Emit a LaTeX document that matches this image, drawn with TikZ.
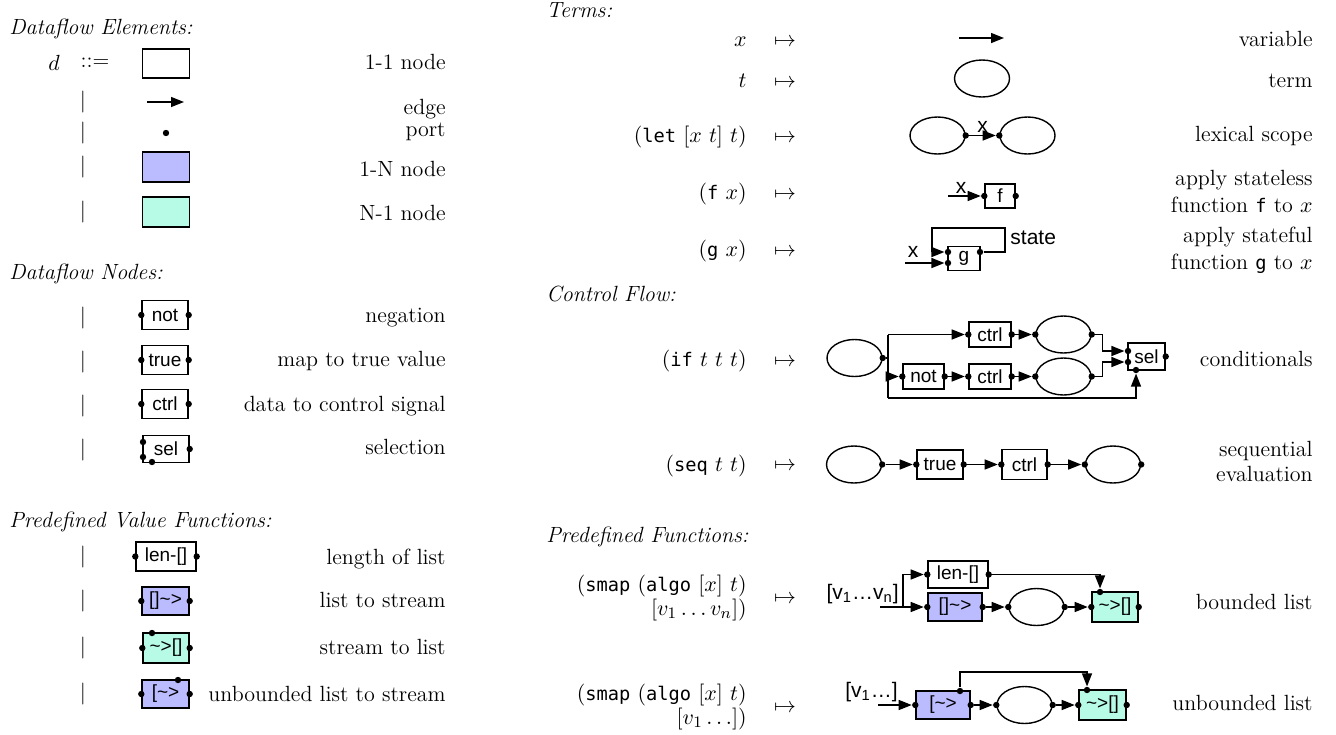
\documentclass[tikz,border=0pt]{standalone}
\usepackage{amsmath}
\usepackage{fontspec}
\newfontfamily\labfont{Liberation Sans}
\newfontfamily\codefont[Scale=0.85]{DejaVu Sans Mono}
\usetikzlibrary{arrows.meta,shapes.geometric}
\definecolor{nblue}{RGB}{187,187,255}
\definecolor{ngreen}{RGB}{183,250,230}
\newcommand\cd[1]{\mbox{\codefont #1}}
\newcommand\prt[2]{\node[port] (#1) at (#2) {};}
\begin{document}
\begin{tikzpicture}[x=0.5pt,y=-0.5pt,
  every node/.style={font=\fontsize{11}{13}\selectfont},
  box/.style={draw, line width=0.7pt, rectangle, inner sep=0pt, font=\labfont\fontsize{9.5}{11}\selectfont},
  bbox/.style={box, fill=nblue},
  gbox/.style={box, fill=ngreen},
  term/.style={draw, ellipse, line width=0.7pt, minimum width=27.5pt, minimum height=18.5pt, inner sep=0pt},
  port/.style={circle, fill=black, inner sep=0pt, minimum size=3.2pt},
  flow/.style={line width=0.7pt, -{Triangle[length=6.5pt,width=5pt]}},
  wire/.style={line width=0.7pt},
  rt/.style={anchor=mid east, inner sep=0pt},
  hd/.style={anchor=mid west, inner sep=0pt, font=\fontsize{11}{13}\selectfont\itshape},
  elab/.style={font=\labfont\fontsize{10.5}{12}\selectfont, inner sep=1pt},
]
\fill[white] (0,0) rectangle (1336,734);
\useasboundingbox (0,0) rectangle (1336,734);

% ---------------- Left column ----------------
\node[hd] (h1) at (9,30) {Dataflow Elements:};
\node (dsym) at (54,63) {$d$};
\node (defs) at (95,63) {::=};
\node[box, minimum width=23.5pt, minimum height=14.5pt] (e1) at (166,63.5) {};
\node[rt] (e1t) at (446,65) {1-1 node};
\node (bar2) at (83,102) {$|$};
\coordinate (ea) at (147,102); \coordinate (eb) at (184,102);
\draw[flow] (ea) -- (eb);
\node[rt] (e2t) at (446,110) {edge};
\node (bar3) at (83,133) {$|$};
\prt{pdot}{166,133}
\node[rt] (e3t) at (446,132) {port};
\node (bar4) at (83,167) {$|$};
\node[bbox, minimum width=23.5pt, minimum height=15pt] (e4) at (166,167) {};
\node[rt] (e4t) at (446,172) {1-N node};
\node (bar5) at (83,212) {$|$};
\node[gbox, minimum width=23.5pt, minimum height=15pt] (e5) at (166,212) {};
\node[rt] (e5t) at (446,216) {N-1 node};

\node[hd] (h2) at (9,275) {Dataflow Nodes:};
\node (bar6) at (83,318) {$|$};
\node[box, minimum width=23pt, minimum height=14.5pt] (nnot) at (165,315) {not};
\prt{nnotl}{nnot.west} \prt{nnotr}{nnot.east}
\node[rt] (n1t) at (446,318) {negation};
\node (bar7) at (83,362) {$|$};
\node[box, minimum width=23pt, minimum height=14.5pt] (ntrue) at (165,360) {true};
\prt{ntruel}{ntrue.west} \prt{ntruer}{ntrue.east}
\node[rt] (n2t) at (446,362) {map to true value};
\node (bar8) at (83,406) {$|$};
\node[box, minimum width=23pt, minimum height=14.5pt] (nctrl) at (165,404) {ctrl};
\prt{nctrll}{nctrl.west} \prt{nctrlr}{nctrl.east}
\node[rt] (n3t) at (446,407) {data to control signal};
\node (bar9) at (83,450) {$|$};
\node[box, minimum width=23pt, minimum height=13.5pt] (nsel) at (166,449) {sel};
\prt{nsel1}{143,442} \prt{nsel2}{143,457} \prt{nselb}{152,462} \prt{nselr}{nsel.east}
\node[rt] (n4t) at (446,450) {selection};

\node[hd] (h3) at (9,523) {Predefined Value Functions:};
\node (bar10) at (83,557) {$|$};
\node[box, minimum width=30pt, minimum height=14.5pt] (vlen) at (166,556.5) {len-[]};
\prt{vlenl}{vlen.west} \prt{vlenr}{vlen.east}
\node[rt] (v1t) at (446,560) {length of list};
\node (bar11) at (83,601) {$|$};
\node[bbox, minimum width=23.5pt, minimum height=14pt] (vls) at (165.5,601) {[]\textasciitilde>};
\prt{vlsl}{vls.west} \prt{vlsr}{vls.east}
\node[rt] (v2t) at (446,603) {list to stream};
\node (bar12) at (83,648) {$|$};
\node[gbox, minimum width=23pt, minimum height=15pt] (vsl) at (166,648) {\textasciitilde>[]};
\prt{vsll}{vsl.west} \prt{vslr}{vsl.east} \prt{vslt}{152,633}
\node[rt] (v3t) at (446,650) {stream to list};
\node (bar13) at (83,694) {$|$};
\node[bbox, minimum width=23.5pt, minimum height=14pt] (vus) at (165.5,694) {[\textasciitilde>};
\prt{vusl}{vus.west} \prt{vusr}{vus.east} \prt{vust}{178,680}
\node[rt] (v4t) at (446,697) {unbounded list to stream};

% ---------------- Right column: Terms ----------------
\node[hd] (h4) at (546,13) {Terms:};
\node[rt] (m1) at (747,42) {$x$};
\node (a1) at (785,42) {$\mapsto$};
\coordinate (va) at (959,38); \coordinate (vb) at (1004,38);
\draw[flow] (va) -- (vb);
\node[rt] (d1) at (1313,42) {variable};

\node[rt] (m2) at (747,83) {$t$};
\node (a2) at (785,83) {$\mapsto$};
\node[term] (tt) at (982,78.5) {};
\node[rt] (d2) at (1313,83) {term};

\node[rt] (m3) at (747,138) {$(\cd{let}\ [x\ t]\ t)$};
\node (a3) at (785,138) {$\mapsto$};
\node[term] (l1) at (937.5,135.5) {};
\node[term] (l2) at (1027.5,135.5) {};
\prt{l1p}{l1.east} \prt{l2p}{l2.west}
\draw[flow] (l1p) -- node[above, elab] {x} (l2p);
\node[rt] (d3) at (1313,137) {lexical scope};

\node[rt] (m4) at (747,195) {$(\cd{f}\ x)$};
\node (a4) at (785,195) {$\mapsto$};
\node[box, minimum width=15pt, minimum height=12pt] (ff) at (1000,196) {f};
\prt{ffl}{ff.west} \prt{ffr}{ff.east}
\coordinate (fx) at (948,196);
\draw[flow] (fx) -- node[above, elab, pos=0.4] {x} (ffl);
\node[rt] (d4a) at (1313,181) {apply stateless};
\node[rt] (d4b) at (1313,208) {function \cd{f} to $x$};

\node[rt] (m5) at (747,252) {$(\cd{g}\ x)$};
\node (a5) at (785,252) {$\mapsto$};
\node[box, minimum width=16pt, minimum height=12pt] (gg) at (964,258.5) {g};
\prt{gl1}{948,252} \prt{gl2}{948,263} \prt{gr}{980,252}
\coordinate (gc1) at (1005,228); \coordinate (gc2) at (932,228);
\draw[flow] (gr) -| (gc1) -- (gc2) |- (gl1);
\node[elab, anchor=mid west] (gst) at (1008,240) {state};
\coordinate (gx) at (905,263);
\draw[flow] (gx) -- (gl2);
\node[elab] (gxl) at (913,252) {x};
\node[rt] (d5a) at (1313,238) {apply stateful};
\node[rt] (d5b) at (1313,265) {function \cd{g} to $x$};

% ---------------- Control Flow ----------------
\node[hd] (h5) at (546,297) {Control Flow:};
\node[rt] (m6) at (747,362) {$(\cd{if}\ t\ t\ t)$};
\node (a6) at (785,362) {$\mapsto$};
\node[term] (c0) at (854.5,358) {};
\prt{c0p}{c0.east}
\coordinate (tr1) at (888,334.5); \coordinate (tr2) at (888,398);
\node[box, minimum width=21pt, minimum height=12.5pt] (cc1) at (990,334.5) {ctrl};
\prt{cc1l}{cc1.west} \prt{cc1r}{cc1.east}
\node[term] (ce1) at (1063.5,334.5) {};
\prt{ce1l}{ce1.west} \prt{ce1r}{ce1.east}
\node[box, minimum width=20.5pt, minimum height=12.5pt] (cnot) at (923.5,376.5) {not};
\prt{cnotl}{cnot.west} \prt{cnotr}{cnot.east}
\node[box, minimum width=21pt, minimum height=12.5pt] (cc2) at (990,376.5) {ctrl};
\prt{cc2l}{cc2.west} \prt{cc2r}{cc2.east}
\node[term] (ce2) at (1063.5,376.5) {};
\prt{ce2l}{ce2.west} \prt{ce2r}{ce2.east}
\node[box, minimum width=18.5pt, minimum height=13.5pt] (csel) at (1146.5,356.5) {sel};
\prt{cs1}{1128,351} \prt{cs2}{1128,362} \prt{csb}{1136,370} \prt{csr}{csel.east}
\draw[wire] (c0p) -- (c0p -| tr1);
\draw[wire] (tr1) -- (tr2);
\draw[flow] (tr1) -- (cc1l);
\draw[flow] (tr1 |- cnotl) -- (cnotl);
\draw[flow] (cnotr) -- (cc2l);
\draw[flow] (cc1r) -- (ce1l);
\draw[flow] (cc2r) -- (ce2l);
\draw[flow] (ce1r) -- ++(11,0) |- (cs1);
\draw[flow] (ce2r) -- ++(11,0) |- (cs2);
\draw[flow] (tr2) -| (csb);
\node[rt] (d6) at (1313,362) {conditionals};

% ---------------- seq ----------------
\node[rt] (m7) at (747,467) {$(\cd{seq}\ t\ t)$};
\node (a7) at (785,466) {$\mapsto$};
\node[term] (s0) at (854,464.5) {};
\prt{s0p}{s0.east}
\node[box, minimum width=23pt, minimum height=14.5pt] (strue) at (940,464.5) {true};
\prt{struel}{strue.west} \prt{struer}{strue.east}
\node[box, minimum width=22.5pt, minimum height=15pt] (sctrl) at (1024.5,464.5) {ctrl};
\prt{sctrll}{sctrl.west} \prt{sctrlr}{sctrl.east}
\node[term] (s1) at (1113,464.5) {};
\prt{s1l}{s1.west} \prt{s1r}{s1.east}
\draw[flow] (s0p) -- (struel);
\draw[flow] (struer) -- (sctrll);
\draw[flow] (sctrlr) -- (s1l);
\node[rt] (d7a) at (1313,452) {sequential};
\node[rt] (d7b) at (1313,477) {evaluation};

% ---------------- Predefined Functions ----------------
\node[hd] (h6) at (546,538) {Predefined Functions:};
\node[rt] (m8a) at (747,587) {$(\cd{smap}\ (\cd{algo}\ [x]\ t)$};
\node[rt] (m8b) at (747,611) {$[v_1\ldots v_n])$};
\node (a8) at (785,599) {$\mapsto$};
\node[box, minimum width=30pt, minimum height=13.5pt] (blen) at (958,574.5) {len-[]};
\prt{blenl}{blen.west} \prt{blenr}{blen.east}
\node[bbox, minimum width=27pt, minimum height=14pt] (bls) at (955,607) {[]\textasciitilde>};
\prt{blsl}{bls.west} \prt{blsr}{bls.east}
\node[term] (be) at (1036.5,607) {};
\prt{bel}{be.west} \prt{ber}{be.east}
\node[gbox, minimum width=23pt, minimum height=15pt] (bsl) at (1115,607) {\textasciitilde>[]};
\prt{bsll}{bsl.west} \prt{bslr}{bsl.east} \prt{bslt}{1100,592}
\coordinate (bin) at (880,607); \coordinate (bbr) at (903,607);
\draw[wire] (bin) -- (bbr);
\draw[flow] (bbr) -- (blsl);
\draw[flow] (bbr) |- (blenl);
\node[elab, anchor=base east] (blab) at (901,599) {[v\textsubscript{1}…v\textsubscript{n}]};
\draw[flow] (blenr) -| (bslt);
\draw[flow] (blsr) -- (bel);
\draw[flow] (ber) -- (bsll);
\node[rt] (d8) at (1313,605) {bounded list};

\node[rt] (m9a) at (747,696) {$(\cd{smap}\ (\cd{algo}\ [x]\ t)$};
\node[rt] (m9b) at (747,720) {$[v_1\ldots])$};
\node (a9) at (785,708) {$\mapsto$};
\node[bbox, minimum width=27pt, minimum height=14pt] (ubs) at (943,705) {[\textasciitilde>};
\prt{ubsl}{ubs.west} \prt{ubsr}{ubs.east} \prt{ubst}{960,691}
\node[term] (ue) at (1024.5,705) {};
\prt{uel}{ue.west} \prt{uer}{ue.east}
\node[gbox, minimum width=23.5pt, minimum height=15pt] (usl) at (1102.5,705) {\textasciitilde>[]};
\prt{usll}{usl.west} \prt{uslr}{usl.east} \prt{uslt}{1087,690}
\coordinate (uin) at (878,705);
\draw[flow] (uin) -- (ubsl);
\node[elab, anchor=base east] (ulab) at (900,697) {[v\textsubscript{1}…]};
\draw[flow] (ubst) -- ++(0,-19) -| (uslt);
\draw[flow] (ubsr) -- (uel);
\draw[flow] (uer) -- (usll);
\node[rt] (d9) at (1313,706) {unbounded list};
\end{tikzpicture}
\end{document}
